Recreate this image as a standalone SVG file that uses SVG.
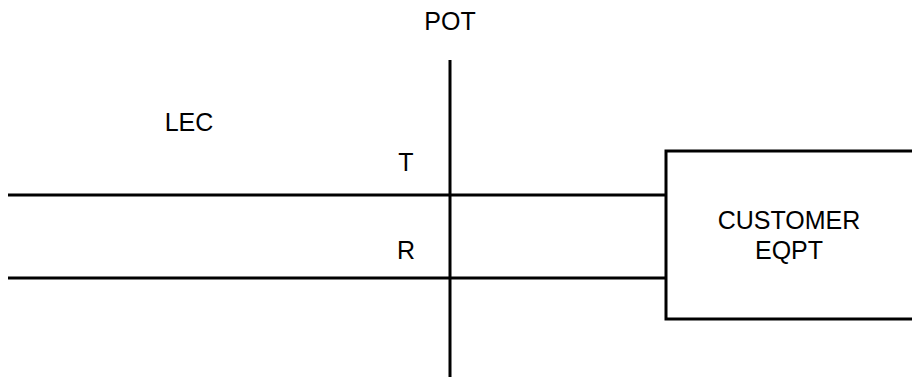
<svg xmlns="http://www.w3.org/2000/svg" width="912" height="378" viewBox="0 0 912 378">
<style>
.ln{stroke:#000;stroke-width:3;fill:none}
.t{font-family:"Liberation Sans",Arial,sans-serif;font-size:25px;fill:#000;text-anchor:middle}
</style>
<rect width="912" height="378" fill="#fff"/>
<g id="connectors">
<line class="ln" x1="8" y1="195" x2="666" y2="195"/>
<line class="ln" x1="8" y1="278" x2="666" y2="278"/>
<line class="ln" x1="450" y1="60" x2="450" y2="377"/>
</g>
<g id="customer">
<rect class="ln" x="666" y="151" width="260" height="168"/>
<text class="t" x="789" y="229">CUSTOMER</text>
<text class="t" x="789" y="259">EQPT</text>
</g>
<g id="labels">
<text class="t" x="450" y="30">POT</text>
<text class="t" x="189" y="131">LEC</text>
<text class="t" x="406" y="171">T</text>
<text class="t" x="406" y="259">R</text>
</g>
</svg>
